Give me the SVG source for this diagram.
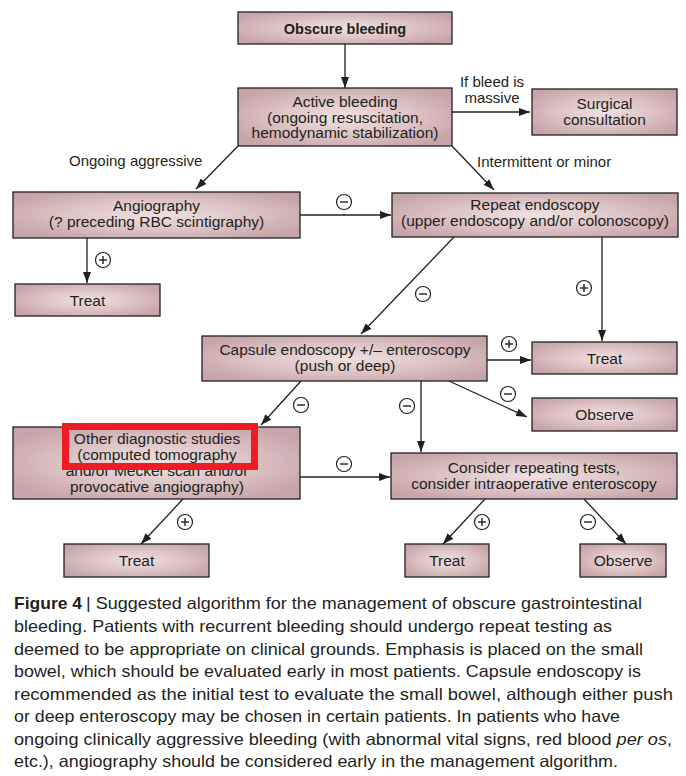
<svg xmlns="http://www.w3.org/2000/svg" width="686" height="776" viewBox="0 0 686 776">
<defs>
<radialGradient id="g" cx="0.5" cy="0.5" r="0.6">
<stop offset="0" stop-color="#efe0e1"/>
<stop offset="0.55" stop-color="#dcc2c4"/>
<stop offset="1" stop-color="#c6a4a8"/>
</radialGradient>
<marker id="ah" markerUnits="userSpaceOnUse" markerWidth="12" markerHeight="8" refX="11" refY="4" orient="auto">
<path d="M0,0 L11,4 L0,8 Z" fill="#231f20"/>
</marker>
<style>
.box{fill:url(#g);stroke:#231f20;stroke-width:1.3}
.t{font-family:"Liberation Sans",Arial,sans-serif;font-size:15.5px;fill:#231f20;text-anchor:middle}
.b{font-weight:bold;font-size:14.5px}
.lbl{font-family:"Liberation Sans",Arial,sans-serif;font-size:15px;fill:#231f20}
.c{fill:none;stroke:#231f20;stroke-width:1.4}
.ln{fill:none;stroke:#231f20;stroke-width:1.3;marker-end:url(#ah)}
.sg{fill:#fff;stroke:#231f20;stroke-width:1.2}
.cap{font-family:"Liberation Sans",Arial,sans-serif;font-size:16.5px;fill:#231f20}
</style>
</defs>
<rect width="686" height="776" fill="#fff"/>

<g id="connectors">
<line class="ln" x1="345" y1="44" x2="345" y2="88"/>
<line class="ln" x1="452" y1="112" x2="530" y2="112"/>
<line class="ln" x1="238" y1="146" x2="196" y2="189"/>
<line class="ln" x1="452" y1="146" x2="494" y2="190"/>
<line class="ln" x1="300" y1="215" x2="391" y2="215"/>
<line class="ln" x1="87" y1="238" x2="87" y2="283"/>
<line class="ln" x1="454" y1="237" x2="361" y2="334"/>
<line class="ln" x1="602" y1="237" x2="602" y2="341"/>
<line class="ln" x1="487" y1="360" x2="531" y2="360"/>
<line class="ln" x1="449" y1="381" x2="527" y2="417"/>
<line class="ln" x1="421" y1="381" x2="421" y2="452"/>
<line class="ln" x1="301" y1="381" x2="261" y2="425"/>
<line class="ln" x1="300" y1="477" x2="390" y2="477"/>
<line class="ln" x1="183" y1="499" x2="141" y2="544"/>
<line class="ln" x1="485" y1="499" x2="443" y2="544"/>
<line class="ln" x1="584" y1="499" x2="626" y2="544"/>
<text class="lbl" x="492" y="87" text-anchor="middle">If bleed is</text>
<text class="lbl" x="492" y="103" text-anchor="middle">massive</text>
<text class="lbl" x="69" y="166">Ongoing aggressive</text>
<text class="lbl" x="477" y="167">Intermittent or minor</text>
<g id="signs">
<circle class="sg" cx="344" cy="202" r="7.5"/><line class="c" x1="340" y1="202" x2="348" y2="202"/>
<circle class="sg" cx="103" cy="260" r="7.5"/><line class="c" x1="99" y1="260" x2="107" y2="260"/><line class="c" x1="103" y1="256" x2="103" y2="264"/>
<circle class="sg" cx="423" cy="294" r="7.5"/><line class="c" x1="419" y1="294" x2="427" y2="294"/>
<circle class="sg" cx="584" cy="288" r="7.5"/><line class="c" x1="580" y1="288" x2="588" y2="288"/><line class="c" x1="584" y1="284" x2="584" y2="292"/>
<circle class="sg" cx="509" cy="344" r="7.5"/><line class="c" x1="505" y1="344" x2="513" y2="344"/><line class="c" x1="509" y1="340" x2="509" y2="348"/>
<circle class="sg" cx="508" cy="394" r="7.5"/><line class="c" x1="504" y1="394" x2="512" y2="394"/>
<circle class="sg" cx="407" cy="406" r="7.5"/><line class="c" x1="403" y1="406" x2="411" y2="406"/>
<circle class="sg" cx="301" cy="405" r="7.5"/><line class="c" x1="297" y1="405" x2="305" y2="405"/>
<circle class="sg" cx="344" cy="464" r="7.5"/><line class="c" x1="340" y1="464" x2="348" y2="464"/>
<circle class="sg" cx="185" cy="522" r="7.5"/><line class="c" x1="181" y1="522" x2="189" y2="522"/><line class="c" x1="185" y1="518" x2="185" y2="526"/>
<circle class="sg" cx="482" cy="522" r="7.5"/><line class="c" x1="478" y1="522" x2="486" y2="522"/><line class="c" x1="482" y1="518" x2="482" y2="526"/>
<circle class="sg" cx="588" cy="522" r="7.5"/><line class="c" x1="584" y1="522" x2="592" y2="522"/>
</g>
</g>

<g id="obscure"><rect class="box" x="238" y="12" width="214" height="32"/><text class="t b" x="345" y="34">Obscure bleeding</text></g>
<g id="active"><rect class="box" x="238" y="88" width="214" height="58"/>
<text class="t" x="345" y="107">Active bleeding</text>
<text class="t" x="345" y="122.5">(ongoing resuscitation,</text>
<text class="t" x="345" y="138">hemodynamic stabilization)</text></g>
<g id="surgical"><rect class="box" x="532" y="89" width="145" height="46"/>
<text class="t" x="604.5" y="109">Surgical</text>
<text class="t" x="604.5" y="124.5">consultation</text></g>
<g id="angio"><rect class="box" x="13" y="192" width="287" height="46"/>
<text class="t" x="156.5" y="211">Angiography</text>
<text class="t" x="156.5" y="227">(? preceding RBC scintigraphy)</text></g>
<g id="repeat"><rect class="box" x="392" y="193" width="286" height="44"/>
<text class="t" x="535" y="210">Repeat endoscopy</text>
<text class="t" x="535" y="226">(upper endoscopy and/or colonoscopy)</text></g>
<g id="treat1"><rect class="box" x="15" y="284" width="145" height="32"/><text class="t" x="87.5" y="305.5">Treat</text></g>
<g id="capsule"><rect class="box" x="202" y="336" width="285" height="45"/>
<text class="t" x="345" y="355">Capsule endoscopy +/– enteroscopy</text>
<text class="t" x="345" y="371">(push or deep)</text></g>
<g id="treat2"><rect class="box" x="532" y="342" width="145" height="32"/><text class="t" x="604.5" y="363.5">Treat</text></g>
<g id="observe1"><rect class="box" x="532" y="398" width="145" height="33"/><text class="t" x="604.5" y="420">Observe</text></g>
<g id="other"><rect class="box" x="13" y="427" width="287" height="72"/>
<text class="t" x="157" y="444">Other diagnostic studies</text>
<text class="t" x="157" y="459.5">(computed tomography</text>
<text class="t" x="157" y="476">and/or Meckel scan and/or</text>
<text class="t" x="157" y="491.5">provocative angiography)</text></g>
<g id="consider"><rect class="box" x="391" y="453" width="286" height="46"/>
<text class="t" x="534" y="473">Consider repeating tests,</text>
<text class="t" x="534" y="489">consider intraoperative enteroscopy</text></g>
<g id="treat3"><rect class="box" x="64" y="544" width="145" height="33"/><text class="t" x="136.5" y="566">Treat</text></g>
<g id="treat4"><rect class="box" x="405" y="544" width="84" height="33"/><text class="t" x="447" y="566">Treat</text></g>
<g id="observe2"><rect class="box" x="580" y="544" width="86" height="33"/><text class="t" x="623" y="566">Observe</text></g>

<g id="highlight"><rect x="65.5" y="426.5" width="189" height="40" fill="none" stroke="#ed1c24" stroke-width="7"/></g>

<g id="caption">
<text class="cap" x="14" y="609" font-weight="bold" textLength="68" lengthAdjust="spacingAndGlyphs">Figure 4</text>
<text class="cap" x="86" y="609" textLength="556" lengthAdjust="spacingAndGlyphs">| Suggested algorithm for the management of obscure gastrointestinal</text>
<text class="cap" x="14" y="632" textLength="598" lengthAdjust="spacingAndGlyphs">bleeding. Patients with recurrent bleeding should undergo repeat testing as</text>
<text class="cap" x="14" y="654.5" textLength="629" lengthAdjust="spacingAndGlyphs">deemed to be appropriate on clinical grounds. Emphasis is placed on the small</text>
<text class="cap" x="14" y="677" textLength="627" lengthAdjust="spacingAndGlyphs">bowel, which should be evaluated early in most patients. Capsule endoscopy is</text>
<text class="cap" x="14" y="699.5" textLength="659" lengthAdjust="spacingAndGlyphs">recommended as the initial test to evaluate the small bowel, although either push</text>
<text class="cap" x="14" y="722" textLength="606" lengthAdjust="spacingAndGlyphs">or deep enteroscopy may be chosen in certain patients. In patients who have</text>
<text class="cap" x="14" y="744.5" textLength="658" lengthAdjust="spacingAndGlyphs">ongoing clinically aggressive bleeding (with abnormal vital signs, red blood <tspan font-style="italic">per os</tspan>,</text>
<text class="cap" x="14" y="767" textLength="604" lengthAdjust="spacingAndGlyphs">etc.), angiography should be considered early in the management algorithm.</text>
</g>
</svg>
